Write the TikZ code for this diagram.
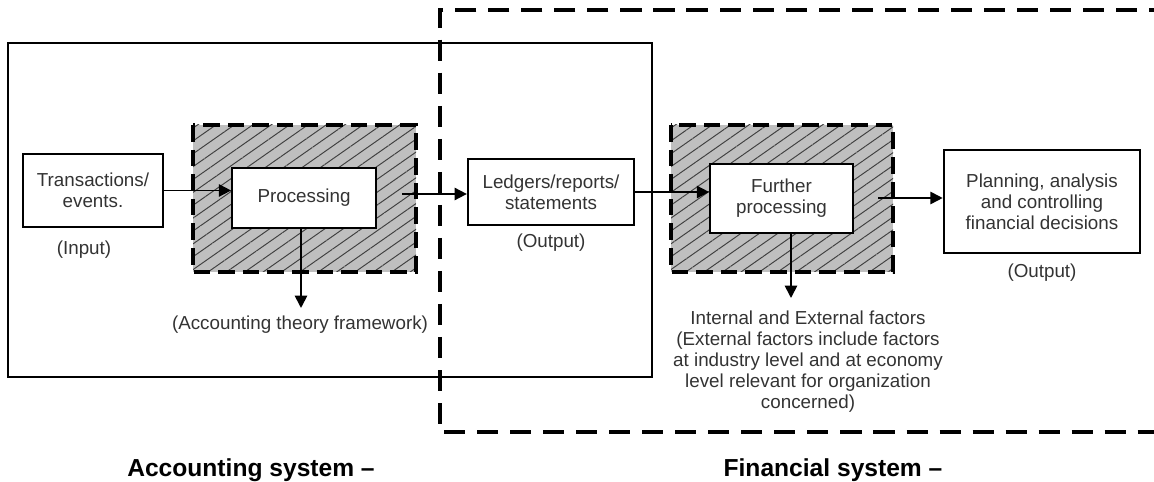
\documentclass[tikz,border=0pt]{standalone}
\usepackage{fontspec}
\setmainfont{Liberation Sans}
\usetikzlibrary{arrows.meta,patterns.meta}
\pgfdeclarelayer{edgelayer}
\pgfdeclarelayer{nodelayer}
\pgfsetlayers{edgelayer,nodelayer,main}
\tikzstyle{none}=[inner sep=0pt]
\tikzstyle{box}=[draw, line width=1.3pt, fill=white, align=center, inner sep=2pt, text=black!80, font=\fontsize{10.7}{11.9}\selectfont]
\tikzstyle{note}=[align=center, text=black!80, font=\fontsize{10.7}{11.9}\selectfont]
\tikzstyle{caption}=[font=\fontsize{14}{16}\selectfont\bfseries]
\tikzstyle{flow}=[-{Triangle[length=7pt,width=7pt]}, line width=1pt]
\tikzstyle{hatched}=[draw, line width=2pt, dash pattern=on 9.5pt off 4.5pt, preaction={fill=black!25}, pattern={Lines[angle=35,distance=6pt,line width=0.55pt]}, pattern color=black!75]
\tikzstyle{frame}=[draw, line width=1.2pt]
\tikzstyle{dashed frame}=[draw, line width=2.3pt, dash pattern=on 12pt off 6.8pt]

\begin{document}
\begin{tikzpicture}[x=0.02cm, y=-0.02cm]
	\useasboundingbox (0,0) rectangle (1154,482);
	\begin{pgfonlayer}{nodelayer}
		\node [style=box, minimum width=2.8cm, minimum height=1.46cm] (0) at (93, 190.5) {Transactions/\\events.};
		\node [style=box, minimum width=2.88cm, minimum height=1.2cm, line width=1pt] (1) at (304, 198) {Processing};
		\node [style=box, minimum width=3.32cm, minimum height=1.32cm] (2) at (551, 192) {Ledgers/reports/\\statements};
		\node [style=box, minimum width=2.86cm, minimum height=1.38cm, line width=1pt] (3) at (781.5, 198.5) {Further\\processing};
		\node [style=box, minimum width=3.92cm, minimum height=2.06cm, line width=1.5pt] (4) at (1042, 201.5) {Planning, analysis\\and controlling\\financial decisions};
		\node [style=note] (5) at (84, 250) {(Input)};
		\node [style=note] (6) at (300, 325) {(Accounting theory framework)};
		\node [style=note] (7) at (551, 243) {(Output)};
		\node [style=note] (8) at (808, 361.5) {Internal and External factors\\(External factors include factors\\at industry level and at economy\\level relevant for organization\\concerned)};
		\node [style=note] (9) at (1042, 273) {(Output)};
		\node [style=caption] (10) at (251, 470) {Accounting system –};
		\node [style=caption] (11) at (833, 470) {Financial system –};
		\node [style=none] (12) at (402, 194) {};
		\node [style=none] (13) at (878, 198) {};
		\node [style=none] (14) at (301, 308) {};
		\node [style=none] (15) at (791, 298) {};
	\end{pgfonlayer}
	\begin{pgfonlayer}{edgelayer}
		\draw [style=frame] (8, 43) rectangle (652, 377);
		\draw [style=dashed frame] (1170, 10) -- (440, 10) -- (440, 432) -- (1170, 432);
		\path [style=hatched] (193, 125) rectangle (416, 272);
		\path [style=hatched] (671, 125) rectangle (893, 272);
		\draw [style=flow] (0.east) to (0.east -| 1.west);
		\draw [style=flow] (12.center) to (12.center -| 2.west);
		\draw [style=flow] (2.east) to (2.east -| 3.west);
		\draw [style=flow] (13.center) to (13.center -| 4.west);
		\draw [style=flow] (14.center |- 1.south) to (14.center);
		\draw [style=flow] (15.center |- 3.south) to (15.center);
	\end{pgfonlayer}
\end{tikzpicture}
\end{document}
